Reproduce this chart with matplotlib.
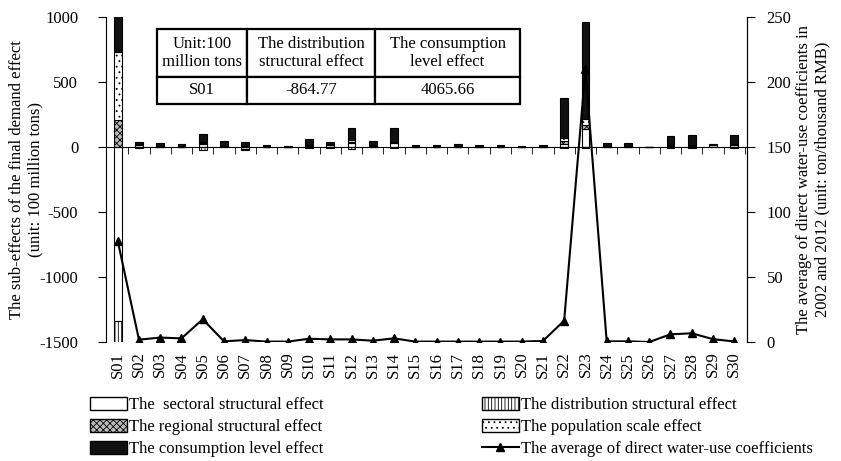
import numpy as np
import matplotlib.pyplot as plt
from matplotlib.patches import Patch
from matplotlib.lines import Line2D

plt.rcParams['font.family'] = ['Liberation Serif', 'DejaVu Serif']
plt.rcParams['font.size'] = 12
plt.rcParams['hatch.linewidth'] = 0.6
plt.rcParams['axes.unicode_minus'] = False

sectors = ['S%02d' % i for i in range(1, 31)]

# sub-effects of the final demand effect (100 million tons)
sectoral = [-1340, 14, 3, 2, 20, 4, -18, 1, 1, 6, 15, 30, 5, 30, 2,
            1, 3, 2, 2, 1, 2, 25, 140, 3, 2, 0, 10, 5, 12, 12]
distribution = [-864.77, -10, -3, -2, -20, -3, -6, -2, -1, -4, -4, -15, -3, -4, -2,
                -2, -2, -2, -2, -1, -2, -10, -10, -3, -3, 0, -4, -4, -2, -4]
regional = [208, 2, 1, 1, 8, 2, 2, 1, 0, 2, 2, 12, 2, 2, 1,
            1, 1, 1, 1, 1, 1, 20, 30, 2, 2, 0, 3, 3, 1, 3]
population = [522, 4, 3, 3, 10, 5, 4, 2, 1, 6, 5, 10, 5, 8, 2,
              2, 2, 2, 2, 1, 2, 25, 45, 4, 3, 0, 6, 6, 2, 6]
consumption = [4065.66, 18, 21, 15, 62, 34, 32, 11, 8, 45, 18, 93, 38, 105, 10,
               11, 16, 10, 10, 7, 10, 305, 745, 23, 23, 0, 65, 80, 5, 70]

# average direct water-use coefficients (ton/thousand RMB)
coef = [78, 1.8, 3.4, 2.8, 17.5, 0.5, 1.5, 0.3, 0.3, 2.5, 2, 2, 1, 2.8, 0.3,
        0.3, 0.3, 0.3, 0.3, 0.3, 0.8, 16.4, 210, 0.5, 0.5, 0, 5.9, 6.7, 2.2, 0.4]

effects = [
    (sectoral, dict(facecolor='white', hatch=None)),
    (distribution, dict(facecolor='white', hatch='|||||')),
    (regional, dict(facecolor='#bbbbbb', hatch='xxxxx')),
    (population, dict(facecolor='white', hatch='...')),
    (consumption, dict(facecolor='#111111', hatch=None)),
]

fig = plt.figure(figsize=(8.41, 4.61), dpi=100)
ax = fig.add_axes([106/841, 1-342/461, 641/841, 325/461])
x = np.arange(len(sectors))
w = 0.36

pos_base = np.zeros(len(sectors))
neg_base = np.zeros(len(sectors))
for vals, style in effects:
    v = np.array(vals, dtype=float)
    base = np.where(v >= 0, pos_base, neg_base)
    ax.bar(x, v, w, bottom=base, edgecolor='black', linewidth=0.8, zorder=2, **style)
    pos_base += np.where(v >= 0, v, 0)
    neg_base += np.where(v < 0, v, 0)

ax.set_ylim(-1500, 1000)
ax.set_yticks(np.arange(-1500, 1001, 500))
ax.set_xlim(-0.55, 29.6)
ax.set_xticks(x)
ax.set_xticklabels(sectors)
ax.set_xticks(np.arange(0.5, 29.6, 1), minor=True)
ax.spines['bottom'].set_visible(False)
ax.spines['top'].set_position(('data', 0))
ax.tick_params(axis='x', which='major', length=0, pad=7, labelrotation=90)
ax.tick_params(axis='x', which='minor', bottom=False, top=True, direction='in', length=5)
ax.tick_params(axis='y', direction='out', length=6, pad=14)
ax.set_ylabel('The sub-effects of the final demand effect\n(unit: 100 million tons)')
ax.yaxis.set_label_coords(-63/641, 0.5)

ax2 = ax.twinx()
ax2.plot(x, coef, color='black', lw=1.5, marker='^', markersize=6, zorder=3)
ax2.set_ylim(0, 250)
ax2.set_yticks(np.arange(0, 251, 50))
ax2.spines['top'].set_visible(False)
ax2.spines['bottom'].set_visible(False)
ax2.spines['left'].set_visible(False)
ax2.tick_params(axis='y', direction='out', length=6, pad=8)
ax2.set_ylabel('The average of direct water-use coefficients in\n2002 and 2012 (unit: ton/thousand RMB)')
ax2.yaxis.set_label_coords(690/641, 0.5)

# inset table for S01, whose bars run off the scale
cells = [['Unit:100\nmillion tons', 'The distribution\nstructural effect', 'The consumption\nlevel effect'],
         ['S01', '%.2f' % distribution[0], '%.2f' % consumption[0]]]
tb = ax.table(cellText=cells, cellLoc='center',
              colWidths=[0.248, 0.353, 0.399],
              bbox=[51/641, (342-104)/325, 363/641, 75/325])
tb.auto_set_font_size(False)
tb.set_fontsize(12)
for (r, c), cell in tb.get_celld().items():
    cell.set_linewidth(1.6)
    cell.set_height(0.64 if r == 0 else 0.36)
    cell.set_facecolor('white')
tb.set_zorder(5)

handles = [
    Patch(facecolor='white', edgecolor='black', label='The  sectoral structural effect'),
    Patch(facecolor='#bbbbbb', edgecolor='black', hatch='xxxxx', label='The regional structural effect'),
    Patch(facecolor='#111111', edgecolor='black', label='The consumption level effect'),
    Patch(facecolor='white', edgecolor='black', hatch='|||||', label='The distribution structural effect'),
    Patch(facecolor='white', edgecolor='black', hatch='...', label='The population scale effect'),
    Line2D([0], [0], color='black', lw=1.5, marker='^', markersize=6,
           label='The average of direct water-use coefficients'),
]
fig.legend(handles=handles, ncol=2, loc='upper left', bbox_to_anchor=(90/841, 1-397/461),
           frameon=False, handlelength=2.2, handleheight=0.8, handletextpad=0.15,
           columnspacing=9.5, labelspacing=0.35, borderaxespad=0, borderpad=0)

fig.savefig('out.png', dpi=100)
